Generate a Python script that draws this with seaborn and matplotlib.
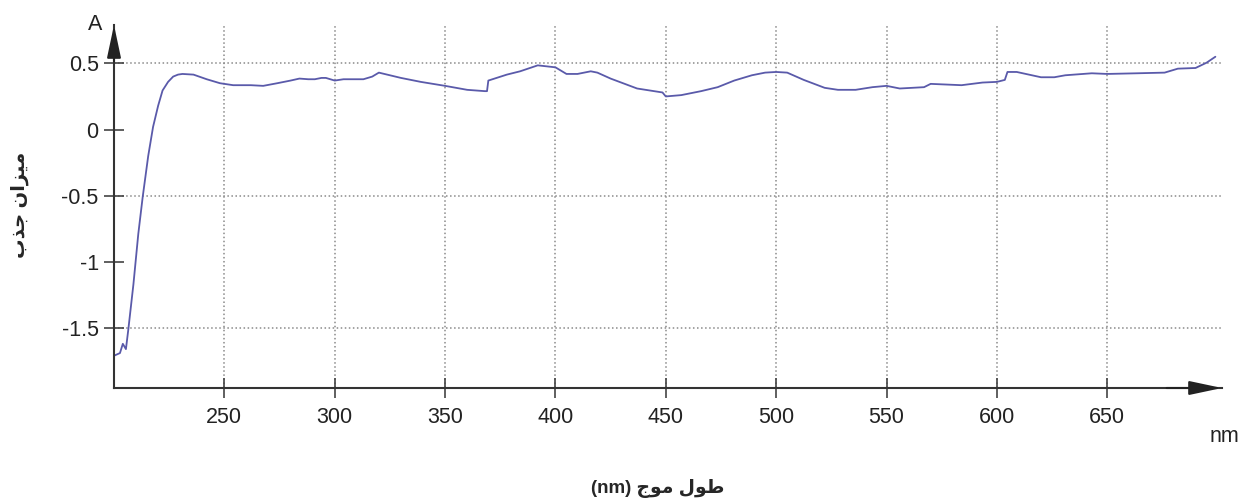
import matplotlib
matplotlib.use('Agg')
import matplotlib.pyplot as plt
import numpy as np
import pandas as pd
import seaborn as sns

# absorbance spectrum
wavelength = [200, 202.7, 204, 205.4, 206.5, 208.8, 211, 213, 215.5, 217.7,
              220, 222, 224.5, 226.8, 229, 231, 236, 242, 248, 254,
              262, 267.6, 274, 280, 284, 288, 291, 294, 296, 300,
              304, 313, 317, 320, 330, 339, 350, 360, 368, 369,
              369.6, 378, 384, 392, 400, 405, 410, 416, 419, 425,
              437, 448.5, 450, 457, 466, 473.5, 481, 489, 495, 500,
              505, 512.5, 522, 528, 536, 543.6, 550, 556, 567, 570,
              584, 593.5, 600, 603.6, 604.8, 609, 620, 626, 631, 643,
              650, 663.5, 676, 682, 690, 695, 699]
absorbance = [-1.71, -1.69, -1.62, -1.66, -1.51, -1.17, -0.79, -0.51, -0.20, 0.02,
              0.18, 0.295, 0.36, 0.40, 0.415, 0.42, 0.415, 0.38, 0.35, 0.335,
              0.335, 0.33, 0.35, 0.37, 0.385, 0.38, 0.38, 0.39, 0.39, 0.37,
              0.38, 0.38, 0.40, 0.43, 0.39, 0.36, 0.33, 0.30, 0.29, 0.29,
              0.37, 0.415, 0.44, 0.485, 0.47, 0.42, 0.42, 0.44, 0.43, 0.385,
              0.31, 0.28, 0.25, 0.26, 0.29, 0.32, 0.37, 0.41, 0.43, 0.435,
              0.43, 0.375, 0.315, 0.30, 0.30, 0.32, 0.33, 0.31, 0.32, 0.345,
              0.335, 0.355, 0.36, 0.375, 0.435, 0.435, 0.395, 0.395, 0.41, 0.425,
              0.42, 0.425, 0.43, 0.46, 0.465, 0.505, 0.55]

x_ticks = [250, 300, 350, 400, 450, 500, 550, 600, 650]
y_ticks = [0.5, 0, -0.5, -1, -1.5]
y_ticklabels = ['0.5', '0', '-0.5', '-1', '-1.5']
h_grid = [0.5, -0.5, -1.5]

# persian labels, written in presentation forms (visual order) since
# matplotlib does no arabic shaping
ylabel = '\uFE8F\uFEAC\uFE9F \uFEE5\uFE8D\uFEB0\uFEF4\uFEE3'   # میزان جذب
xlabel = '(nm) \uFE9D\uFEEE\uFEE3 \uFEDD\uFEEE\uFEC3'          # طول موج (nm)

df = pd.DataFrame({'nm': wavelength, 'A': absorbance})

sns.set_style('white')
plt.rcParams['font.family'] = ['Liberation Sans', 'DejaVu Sans']

W, H = 1239, 500
fig = plt.figure(figsize=(W / 100, H / 100), dpi=100)
ax = fig.add_axes([114 / W, 1 - 388 / H, (1222 - 114) / W, (388 - 25) / H])

sns.lineplot(data=df, x='nm', y='A', ax=ax, color='#5a5aaa', lw=1.3)

ax.set_xlim(200, 702)
ax.set_ylim(-1.954, 0.79)
ax.set_xticks(x_ticks)
ax.set_yticks(y_ticks)
ax.set_yticklabels(y_ticklabels)
ax.set_xlabel('')
ax.set_ylabel('')

# grid: vertical at every tick, horizontal only on some
ax.grid(axis='x', color='#8a8a8a', ls=':', lw=1.1)
for g in h_grid:
    ax.axhline(g, color='#8a8a8a', ls=':', lw=1.1, zorder=0.5)

for s in ['top', 'right']:
    ax.spines[s].set_visible(False)
for s in ['left', 'bottom']:
    ax.spines[s].set_color('#333333')
    ax.spines[s].set_linewidth(1.5)

ax.tick_params(axis='both', direction='inout', length=14, width=1.2,
               color='#444444', labelsize=15.5, labelcolor='#222222',
               bottom=True, left=True)
ax.tick_params(axis='x', pad=7)
ax.tick_params(axis='y', pad=4)

# arrow heads on the axes
arrow = dict(arrowstyle='-|>,head_length=0.8,head_width=0.17',
             mutation_scale=25, color='#222222', lw=1.5,
             shrinkA=0, shrinkB=0)
ax.annotate('', xy=(1, 0), xytext=(0.95, 0), xycoords='axes fraction',
            arrowprops=arrow, annotation_clip=False)
ax.annotate('', xy=(0, 1), xytext=(0, 0.9), xycoords='axes fraction',
            arrowprops=arrow, annotation_clip=False)

fig.text(95 / W, 1 - 24 / H, 'A', fontsize=15.5, ha='center', va='center',
         color='#222222')
fig.text(1224 / W, 1 - 436 / H, 'nm', fontsize=15.5, ha='center', va='center',
         color='#222222')
fig.text(658 / W, 1 - 488 / H, xlabel, fontsize=13.5, fontweight='bold',
         ha='center', va='center')
fig.text(20 / W, 1 - 205 / H, ylabel, fontsize=14, fontweight='bold',
         rotation=90, ha='center', va='center')

plt.savefig('out.png', dpi=100)
